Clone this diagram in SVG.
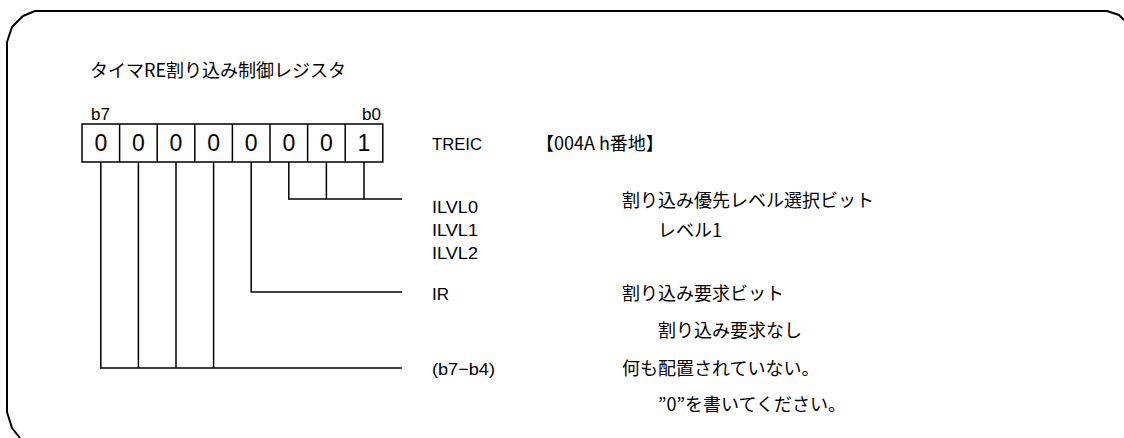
<svg xmlns="http://www.w3.org/2000/svg" width="1124" height="438" viewBox="0 0 1124 438">
<style>
.ln{stroke:#000;stroke-width:1.5;fill:none}
.cell{stroke:#000;stroke-width:1.5;fill:#fff}
.jp{font-family:"Noto Sans CJK JP","Liberation Sans",sans-serif;font-size:18px;fill:#000}
.lat{font-family:"Liberation Sans","Noto Sans CJK JP",sans-serif;font-size:17px;fill:#000}
.dg{font-family:"Liberation Sans",sans-serif;font-size:23px;fill:#000;text-anchor:middle}
.bl{font-family:"Liberation Sans",sans-serif;font-size:17px;fill:#000}
</style>
<rect width="1124" height="438" fill="#fff"/>
<path d="M20,438 L12,428 L7,412 L7,42 L12,27 L23,16 L35,11 L1107,11 L1119,15 L1124,20" fill="none" stroke="#000" stroke-width="2" stroke-linejoin="round"/>
<g id="title"><text class="jp" x="90" y="77" font-size="20">タイマRE割り込み制御レジスタ</text></g>
<g id="register">
<text class="bl" x="91" y="120">b7</text>
<text class="bl" x="381" y="120" text-anchor="end">b0</text>
<rect class="cell" x="82" y="124" width="300.8" height="38"/>
<path class="ln" d="M119.6,124V162M157.2,124V162M194.8,124V162M232.4,124V162M270,124V162M307.6,124V162M345.2,124V162"/>
<text class="dg" x="100.8" y="151">0</text>
<text class="dg" x="138.4" y="151">0</text>
<text class="dg" x="176" y="151">0</text>
<text class="dg" x="213.6" y="151">0</text>
<text class="dg" x="251.2" y="151">0</text>
<text class="dg" x="288.8" y="151">0</text>
<text class="dg" x="326.4" y="151">0</text>
<text class="dg" x="364" y="151">1</text>
</g>
<g id="connectors">
<path class="ln" d="M288.8,162V199H402M326.4,162V199M364,162V199"/>
<path class="ln" d="M251.2,162V292H402"/>
<path class="ln" d="M100.8,162V368H402M138.4,162V368M176,162V368M213.6,162V368"/>
</g>
<g id="reg-name">
<text class="lat" x="432" y="150" textLength="50" lengthAdjust="spacingAndGlyphs">TREIC</text>
<text class="jp" x="536" y="150">【004A h番地】</text>
</g>
<g id="ilvl">
<text class="lat" x="432" y="213" textLength="46" lengthAdjust="spacingAndGlyphs">ILVL0</text>
<text class="lat" x="432" y="236" textLength="46" lengthAdjust="spacingAndGlyphs">ILVL1</text>
<text class="lat" x="432" y="259" textLength="46" lengthAdjust="spacingAndGlyphs">ILVL2</text>
<text class="jp" x="622" y="207">割り込み優先レベル選択ビット</text>
<text class="jp" x="658" y="237">レベル1</text>
</g>
<g id="ir">
<text class="lat" x="432" y="300">IR</text>
<text class="jp" x="622" y="300">割り込み要求ビット</text>
<text class="jp" x="658" y="337">割り込み要求なし</text>
</g>
<g id="reserved">
<text class="lat" x="432" y="375" textLength="63" lengthAdjust="spacingAndGlyphs">(b7−b4)</text>
<text class="jp" x="622" y="375">何も配置されていない。</text>
<text class="jp" x="658" y="411">”0”を書いてください。</text>
</g>
</svg>
